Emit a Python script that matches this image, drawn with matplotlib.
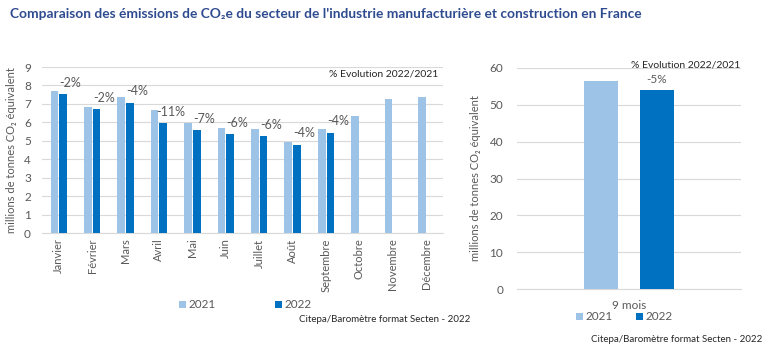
import matplotlib
matplotlib.use("Agg")
import matplotlib.pyplot as plt
import numpy as np

plt.rcParams['font.family'] = ['Lato', 'DejaVu Sans']

months = ["Janvier", "Février", "Mars", "Avril", "Mai", "Juin", "Juillet",
          "Août", "Septembre", "Octobre", "Novembre", "Décembre"]
v2021 = [7.68, 6.83, 7.35, 6.67, 5.96, 5.67, 5.63, 4.93, 5.62, 6.32, 7.24, 7.35]
v2022 = [7.53, 6.72, 7.05, 5.96, 5.58, 5.36, 5.25, 4.77, 5.42, None, None, None]
pct = ["-2%", "-2%", "-4%", "-11%", "-7%", "-6%", "-6%", "-4%", "-4%"]

total_cat = ["9 mois"]
total_2021 = [56.6]
total_2022 = [53.9]
total_pct = ["-5%"]

C21 = "#9DC3E6"
C22 = "#0070C0"
GRID = "#D9D9D9"
TXT = "#595959"

W, H = 768, 348
fig = plt.figure(figsize=(W / 100, H / 100), dpi=100)

def ax_at(x0, y0, x1, y1):
    return fig.add_axes([x0 / W, 1 - y1 / H, (x1 - x0) / W, (y1 - y0) / H])

fig.text(10 / W, 1 - 14 / H,
         "Comparaison des émissions de CO₂e du secteur de l'industrie manufacturière et construction en France",
         color="#2F4B8F", fontsize=9.9, fontweight="bold", va="center", ha="left")

# Left chart
ax = ax_at(42, 67, 443, 233)
x = np.arange(len(months))
bw = 0.23
gap = 0.03
ax.bar(x - bw / 2 - gap / 2, v2021, width=bw, color=C21, label="2021", zorder=3)
x22 = [i for i, v in enumerate(v2022) if v is not None]
y22 = [v for v in v2022 if v is not None]
ax.bar(np.array(x22) + bw / 2 + gap / 2, y22, width=bw, color=C22, label="2022", zorder=3)
for i, v, p in zip(x22, y22, pct):
    ax.text(i + bw / 2 + gap / 2 + 0.22, v + 0.3, p, ha="center", va="bottom",
            fontsize=9, color=TXT)
ax.set_xlim(-0.5, len(months) - 0.5)
ax.set_ylim(0, 9)
ax.set_yticks(range(10))
ax.set_xticks(x)
ax.set_xticklabels(months, rotation=90, fontsize=8, color=TXT)
ax.tick_params(axis="y", labelsize=8.5, colors=TXT, length=0, pad=8)
ax.tick_params(axis="x", length=0, pad=4)
ax.grid(axis="y", color=GRID, linewidth=0.8, zorder=0)
for s in ["top", "right", "left"]:
    ax.spines[s].set_visible(False)
ax.spines["bottom"].set_color(GRID)
ax.set_ylabel("millions de tonnes CO₂ équivalent", fontsize=8, color=TXT, labelpad=5)
ax.text(438 / W, 1 - 74 / H, "% Evolution 2022/2021", transform=fig.transFigure,
        ha="right", va="center", fontsize=7.5, color="#262626")
ax.legend(loc="center", bbox_to_anchor=((245 - 42) / 401, -(305 - 233) / 166),
          ncol=2, frameon=False, fontsize=8.5, handlelength=0.6, handleheight=0.6,
          columnspacing=5, handletextpad=0.2, labelcolor=TXT)
fig.text(470 / W, 1 - 319 / H, "Citepa/Baromètre format Secten - 2022",
         ha="right", va="center", fontsize=7, color="#262626")

# Right chart
ax2 = ax_at(517, 68, 741, 289)
bw2 = 0.152
gap2 = 0.094
ax2.bar([0 - bw2 / 2 - gap2 / 2], total_2021, width=bw2, color=C21, label="2021", zorder=3)
ax2.bar([0 + bw2 / 2 + gap2 / 2], total_2022, width=bw2, color=C22, label="2022", zorder=3)
ax2.text(0 + bw2 / 2 + gap2 / 2, total_2022[0] + 1.5, total_pct[0], ha="center",
         va="bottom", fontsize=8.5, color=TXT)
ax2.set_xlim(-0.5, 0.5)
ax2.set_ylim(0, 60)
ax2.set_yticks(range(0, 61, 10))
ax2.set_xticks([0])
ax2.set_xticklabels(total_cat, fontsize=8.5, color=TXT)
ax2.tick_params(axis="y", labelsize=8.5, colors=TXT, length=0, pad=10)
ax2.tick_params(axis="x", length=0, pad=8)
ax2.grid(axis="y", color=GRID, linewidth=0.8, zorder=0)
for s in ["top", "right", "left"]:
    ax2.spines[s].set_visible(False)
ax2.spines["bottom"].set_color(GRID)
ax2.set_ylabel("millions de tonnes CO₂ équivalent", fontsize=8, color=TXT, labelpad=6)
fig.text(686 / W, 1 - 65 / H, "% Evolution 2022/2021", ha="center", va="center",
         fontsize=7.5, color="#262626")
ax2.legend(loc="center", bbox_to_anchor=((624 - 517) / 224, -(317 - 289) / 221),
           ncol=2, frameon=False, fontsize=8.5, handlelength=0.6, handleheight=0.6,
           columnspacing=2, handletextpad=0.2, labelcolor=TXT)
fig.text(762 / W, 1 - 339 / H, "Citepa/Baromètre format Secten - 2022",
         ha="right", va="center", fontsize=7, color="#262626")

fig.savefig("out.png", dpi=100)
